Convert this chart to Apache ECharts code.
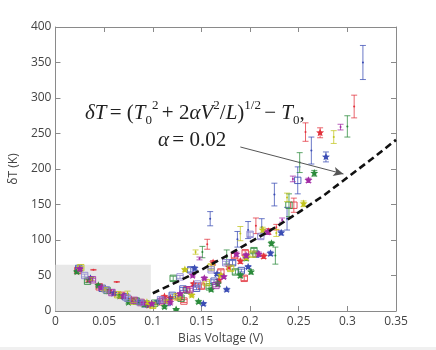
<!DOCTYPE html>
<html>
<head>
<meta charset="utf-8">
<script src="https://cdn.jsdelivr.net/npm/echarts@6/dist/echarts.min.js"></script>
<style>
  html, body { margin: 0; padding: 0; background: #fff; }
  #chart { width: 436px; height: 350px; }
</style>
</head>
<body>
<div id="chart"></div>
<script>
"use strict";

// rows: [bias voltage (V), deltaT (K), error (K), marker]
var redPts = [
    [0.023, 57, 2, 'sq'], [0.034, 44, 2, 'star'], [0.039, 58, 0.5, 'dot'], [0.045, 34, 2, 'sq'],
    [0.055, 28, 2, 'star'], [0.063, 41, 0.5, 'dot'], [0.068, 22, 2, 'sq'], [0.078, 16, 2, 'star'],
    [0.088, 12, 2, 'sq'], [0.096, 8, 2, 'star'], [0.108, 13, 2, 'sq'], [0.118, 18, 2, 'star'],
    [0.127, 20, 2, 'sq'], [0.135, 30, 3, 'sq'], [0.142, 38, 2, 'star'], [0.150, 35, 3, 'sq'],
    [0.156, 94, 7, 'dot'], [0.162, 68, 3, 'star'], [0.170, 55, 3, 'sq'], [0.178, 62, 3, 'star'],
    [0.190, 70, 3, 'star'], [0.194, 46, 3, 'sq'], [0.195, 82, 3, 'sq'], [0.206, 120, 11, 'dot'],
    [0.214, 77, 3, 'star'], [0.219, 112, 4, 'star'], [0.227, 118, 4, 'dot'], [0.245, 149, 10, 'sq'],
    [0.257, 252, 13, 'dot'], [0.272, 251, 7, 'star'], [0.307, 288, 16, 'dot'],
    [0.112, 20, 2, 'star'], [0.132, 14, 2, 'sq'], [0.184, 78, 3, 'sq'], [0.168, 43, 2, 'star']
];
var bluePts = [
    [0.024, 60, 2, 'sq'], [0.036, 46, 2, 'star'], [0.048, 32, 2, 'sq'], [0.060, 25, 2, 'star'],
    [0.072, 20, 2, 'sq'], [0.085, 13, 2, 'star'], [0.093, 10, 2, 'sq'], [0.105, 13, 2, 'star'],
    [0.120, 22, 2, 'sq'], [0.131, 31, 2, 'sq'], [0.139, 58, 3, 'sq'], [0.143, 60, 2, 'star'],
    [0.152, 10, 2, 'star'], [0.159, 130, 10, 'dot'], [0.163, 42, 2, 'sq'], [0.176, 30, 2, 'star'],
    [0.182, 68, 3, 'sq'], [0.187, 101, 11, 'dot'], [0.198, 62, 2, 'star'], [0.198, 114, 12, 'dot'],
    [0.206, 80, 3, 'sq'], [0.212, 118, 12, 'dot'], [0.221, 81, 3, 'star'], [0.225, 164, 16, 'dot'],
    [0.232, 110, 3, 'star'], [0.238, 130, 16, 'dot'], [0.249, 184, 19, 'sq'], [0.263, 226, 19, 'dot'],
    [0.278, 217, 7, 'star'], [0.316, 350, 24, 'dot'],
    [0.115, 12, 2, 'sq'], [0.145, 32, 2, 'sq'], [0.166, 52, 2, 'star'], [0.191, 57, 2, 'sq']
];
var greenPts = [
    [0.022, 55, 2, 'star'], [0.033, 42, 2, 'sq'], [0.044, 36, 2, 'star'], [0.053, 29, 2, 'sq'],
    [0.066, 21, 2, 'star'], [0.075, 12, 2, 'star'], [0.083, 14, 2, 'sq'], [0.091, 9, 2, 'star'],
    [0.102, 11, 2, 'sq'], [0.112, 6, 2, 'star'], [0.124, 2, 1, 'star'], [0.121, 46, 3, 'sq'],
    [0.135, 28, 3, 'dot'], [0.147, 13, 2, 'star'], [0.151, 83, 8, 'dot'], [0.158, 34, 2, 'sq'],
    [0.167, 38, 3, 'star'], [0.176, 76, 10, 'dot'], [0.185, 55, 3, 'sq'], [0.190, 50, 3, 'star'],
    [0.201, 55, 3, 'star'], [0.204, 85, 3, 'sq'], [0.222, 95, 3, 'star'], [0.226, 78, 12, 'dot'],
    [0.240, 149, 16, 'sq'], [0.251, 209, 14, 'dot'], [0.266, 194, 4, 'star'], [0.300, 260, 15, 'dot'],
    [0.129, 18, 2, 'sq'], [0.160, 30, 2, 'star'], [0.196, 74, 3, 'star']
];
var yellowPts = [
    [0.026, 61, 2, 'sq'], [0.037, 45, 2, 'dot'], [0.050, 31, 2, 'star'], [0.064, 23, 2, 'sq'],
    [0.074, 25, 3, 'dot'], [0.080, 14, 2, 'sq'], [0.094, 12, 2, 'star'], [0.100, 8, 3, 'sq'],
    [0.113, 14, 2, 'star'], [0.125, 20, 2, 'sq'], [0.140, 22, 2, 'star'], [0.144, 83, 3, 'dot'],
    [0.155, 40, 2, 'sq'], [0.170, 50, 2, 'star'], [0.180, 60, 3, 'sq'], [0.190, 109, 10, 'dot'],
    [0.196, 75, 2, 'star'], [0.203, 80, 3, 'sq'], [0.213, 114, 4, 'star'], [0.227, 110, 5, 'dot'],
    [0.238, 160, 6, 'dot'], [0.255, 151, 4, 'star'], [0.286, 245, 9, 'dot'],
    [0.133, 58, 2, 'star'], [0.160, 62, 3, 'sq']
];
var magentaPts = [
    [0.025, 59, 2, 'star'], [0.038, 44, 2, 'sq'], [0.047, 33, 2, 'star'], [0.058, 26, 2, 'sq'],
    [0.070, 21, 2, 'star'], [0.081, 15, 2, 'sq'], [0.090, 11, 2, 'star'], [0.099, 10, 2, 'star'],
    [0.110, 15, 2, 'sq'], [0.128, 24, 2, 'star'], [0.138, 30, 2, 'sq'], [0.148, 74, 2, 'dot'],
    [0.153, 46, 2, 'star'], [0.165, 36, 2, 'sq'], [0.173, 48, 2, 'star'], [0.186, 80, 3, 'star'],
    [0.196, 78, 3, 'star'], [0.209, 80, 3, 'star'], [0.218, 111, 3, 'star'], [0.233, 128, 3, 'dot'],
    [0.244, 186, 4, 'dot'], [0.260, 184, 3, 'star'], [0.293, 259, 4, 'dot'],
    [0.118, 12, 2, 'star'], [0.141, 50, 2, 'star']
];
var lavenderPts = [
    [0.030, 50, 2, 'sq'], [0.052, 30, 2, 'sq'], [0.074, 18, 2, 'sq'], [0.087, 12, 2, 'sq'],
    [0.108, 16, 2, 'sq'], [0.128, 48, 2, 'sq'], [0.146, 38, 2, 'sq'], [0.160, 58, 2, 'sq'],
    [0.175, 68, 2, 'sq'], [0.200, 108, 3, 'sq'], [0.211, 105, 3, 'sq']
];

// model curve
var curveV = [0.1, 0.125, 0.15, 0.175, 0.2, 0.225, 0.25, 0.275, 0.3, 0.325, 0.35];
var curveT = [25, 41, 58, 77, 97, 117, 139, 162, 188, 214, 241];

// shaded low-bias region [V0, T0, V1, T1]
var shadeBox = [[0, 0, 0.098, 65]];

var xTicks = { min: 0, max: 0.35, step: 0.05 };
var yTicks = { min: 0, max: 400, step: 50 };

var chart = echarts.init(document.getElementById('chart'));

function starPoints(cx, cy, r) {
    var pts = [];
    for (var i = 0; i < 10; i++) {
        var a = -Math.PI / 2 + i * Math.PI / 5;
        var rr = i % 2 === 0 ? r : r * 0.45;
        pts.push([cx + rr * Math.cos(a), cy + rr * Math.sin(a)]);
    }
    return pts;
}

function pointSeries(rows, color) {
    return {
        type: 'custom',
        clip: true,
        z: 3,
        data: rows.map(function (r) { return [r[0], r[1], r[2]]; }),
        renderItem: function (params, api) {
            var row = rows[params.dataIndex];
            var v = api.value(0), t = api.value(1), e = api.value(2);
            var c = api.coord([v, t]);
            var kids = [];
            var st = { stroke: color, lineWidth: 1, opacity: 0.75 };
            if (e > 0) {
                var hi = api.coord([v, t + e]), lo = api.coord([v, t - e]);
                kids.push({ type: 'line', shape: { x1: c[0], y1: hi[1], x2: c[0], y2: lo[1] }, style: st });
                kids.push({ type: 'line', shape: { x1: c[0] - 3, y1: hi[1], x2: c[0] + 3, y2: hi[1] }, style: st });
                kids.push({ type: 'line', shape: { x1: c[0] - 3, y1: lo[1], x2: c[0] + 3, y2: lo[1] }, style: st });
            }
            if (row[3] === 'star') {
                kids.push({ type: 'polygon', shape: { points: starPoints(c[0], c[1], 4.2) }, style: { fill: color } });
            } else if (row[3] === 'sq') {
                kids.push({ type: 'rect', shape: { x: c[0] - 3.2, y: c[1] - 3.2, width: 6.4, height: 6.4 },
                    style: { fill: 'none', stroke: color, lineWidth: 1, opacity: 0.85 } });
            } else {
                kids.push({ type: 'circle', shape: { cx: c[0], cy: c[1], r: 1 }, style: { fill: color } });
            }
            return { type: 'group', children: kids };
        }
    };
}

var axisFont = { color: '#444', fontSize: 12, fontFamily: 'Open Sans' };
var boxLine = { show: true, onZero: false, lineStyle: { color: '#8a8a8a', width: 1 } };
var boxTick = { show: true, inside: true, length: 5, lineStyle: { color: '#8a8a8a' } };

chart.setOption({
    animation: false,
    backgroundColor: '#fff',
    grid: { left: 55, right: 40, top: 27, bottom: 39 },
    xAxis: [{
        type: 'value', min: xTicks.min, max: xTicks.max, interval: xTicks.step,
        name: 'Bias Voltage (V)', nameLocation: 'middle', nameGap: 18,
        nameTextStyle: { color: '#444', fontSize: 12, fontFamily: 'Open Sans', padding: [0, 10, 0, 0] },
        axisLine: boxLine, axisTick: boxTick, splitLine: { show: false },
        axisLabel: Object.assign({ margin: 5 }, axisFont)
    }, {
        type: 'value', position: 'top', min: xTicks.min, max: xTicks.max, interval: xTicks.step,
        axisLine: boxLine, axisTick: boxTick, splitLine: { show: false }, axisLabel: { show: false }
    }],
    yAxis: [{
        type: 'value', min: yTicks.min, max: yTicks.max, interval: yTicks.step,
        name: 'δT (K)', nameLocation: 'middle', nameGap: 27,
        nameTextStyle: { color: '#444', fontSize: 12, fontFamily: 'Open Sans' },
        axisLine: boxLine, axisTick: boxTick, splitLine: { show: false },
        axisLabel: Object.assign({ margin: 4 }, axisFont)
    }, {
        type: 'value', position: 'right', min: yTicks.min, max: yTicks.max, interval: yTicks.step,
        axisLine: boxLine, axisTick: boxTick, splitLine: { show: false }, axisLabel: { show: false }
    }],
    series: [
        {
            type: 'custom',
            z: 1,
            data: shadeBox,
            renderItem: function (params, api) {
                var p0 = api.coord([api.value(0), api.value(1)]);
                var p1 = api.coord([api.value(2), api.value(3)]);
                return { type: 'rect', shape: { x: p0[0], y: p1[1], width: p1[0] - p0[0], height: p0[1] - p1[1] },
                    style: { fill: '#e8e8e8' } };
            }
        },
        pointSeries(redPts, '#e2323c'),
        pointSeries(bluePts, '#3a4cb4'),
        pointSeries(greenPts, '#2a8a3a'),
        pointSeries(yellowPts, '#c2c41c'),
        pointSeries(magentaPts, '#a22aa4'),
        pointSeries(lavenderPts, '#8a80d0'),
        {
            type: 'line',
            z: 5,
            smooth: false,
            symbol: 'none',
            data: curveV.map(function (v, i) { return [v, curveT[i]]; }),
            lineStyle: { color: '#111', width: 2.6, type: [7, 4] },
            markLine: {
                silent: true,
                symbol: ['none', 'arrow'],
                symbolSize: [7, 10],
                label: { show: false },
                lineStyle: { color: '#555', width: 1, type: 'solid' },
                data: [[{ coord: [0.190, 231] }, { coord: [0.296, 193] }]]
            }
        }
    ],
    graphic: [
        {
            type: 'text', left: 85, top: 99, z: 10,
            style: {
                text: '{m|δT} {r|= (}{m|T}{sub|0}{sup|2} {r|+ 2}{m|αV}{sup|2}{r|/}{m|L}{r|)}{sup|1/2} {r|− }{m|T}{sub|0}{r|,}',
                rich: {
                    m: { fontFamily: 'Liberation Serif', fontStyle: 'italic', fontSize: 21, lineHeight: 28, fill: '#222' },
                    r: { fontFamily: 'Liberation Serif', fontSize: 21, lineHeight: 28, fill: '#222' },
                    sup: { fontFamily: 'Liberation Serif', fontSize: 13, lineHeight: 28, verticalAlign: 'top', fill: '#222' },
                    sub: { fontFamily: 'Liberation Serif', fontSize: 13, lineHeight: 28, verticalAlign: 'bottom', fill: '#222' }
                }
            }
        },
        {
            type: 'text', left: 158, top: 130, z: 10,
            style: {
                text: '{m|α} {r|= 0.02}',
                rich: {
                    m: { fontFamily: 'Liberation Serif', fontStyle: 'italic', fontSize: 21, fill: '#222' },
                    r: { fontFamily: 'Liberation Serif', fontSize: 21, fill: '#222' }
                }
            }
        },
        {
            type: 'rect', left: 0, top: 347, z: 0,
            shape: { width: 436, height: 3 },
            style: { fill: '#f0f0f0' }
        }
    ]
});
</script>
</body>
</html>
